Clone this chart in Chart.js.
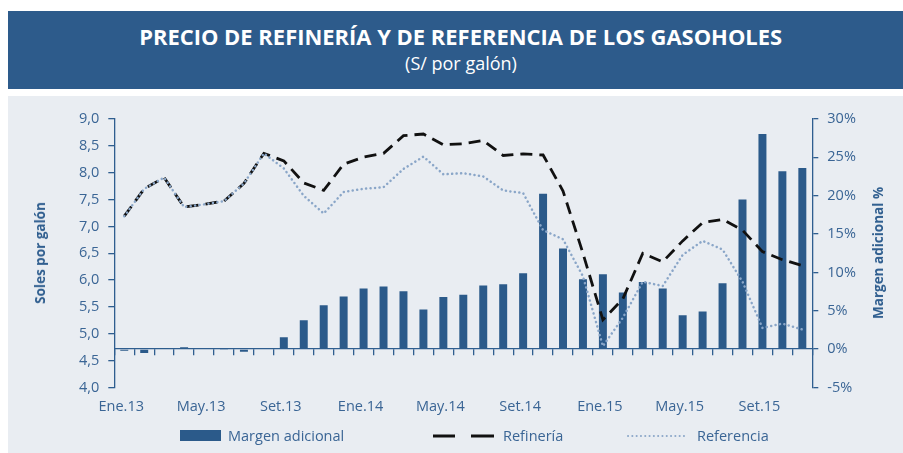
<!DOCTYPE html>
<html><head><meta charset="utf-8">
<script src="https://cdn.jsdelivr.net/npm/chart.js@4.4.1/dist/chart.umd.min.js"></script>
<style>
html,body{margin:0;padding:0;background:#fff;width:903px;height:453px;overflow:hidden;font-family:"Open Sans",sans-serif;}
#banner{position:absolute;left:8px;top:11px;width:895px;height:78px;background:#2D5B8B;}
#panel{position:absolute;left:8px;top:96px;width:895px;height:357px;background:#E9EDF2;}
.t{position:absolute;left:0;width:922px;text-align:center;color:#fff;white-space:nowrap;}
#t1{top:25px;font-size:21px;font-weight:bold;line-height:24px;}
#t2{top:52px;font-size:18px;line-height:22px;}
#c{position:absolute;left:0;top:0;}
.ytitle{position:absolute;color:#2F5E8F;font-weight:bold;font-size:13.5px;white-space:nowrap;line-height:16px;transform:translate(-50%,-50%) rotate(-90deg);}
.legt{position:absolute;top:426px;color:#3A6595;font-size:14.5px;line-height:20px;white-space:nowrap;}
</style></head>
<body>
<div id="banner"></div>
<div id="panel"></div>
<div class="t" id="t1"><span id="t1s" style="display:inline-block">PRECIO DE REFINERÍA Y DE REFERENCIA DE LOS GASOHOLES</span></div>
<div class="t" id="t2">(S/ por galón)</div>
<canvas id="c" width="903" height="453"></canvas>
<div class="ytitle" style="left:40px;top:253px;">Soles por galón</div>
<div class="ytitle" style="left:878px;top:253px;">Margen adicional %</div>
<div style="position:absolute;left:180px;top:430px;width:41px;height:11px;background:#2B5A8A"></div>
<div class="legt" style="left:228px">Margen adicional</div>
<svg style="position:absolute;left:433px;top:430px" width="62" height="12"><line x1="0" y1="6" x2="22" y2="6" stroke="#111" stroke-width="3"/><line x1="38" y1="6" x2="61" y2="6" stroke="#111" stroke-width="3"/></svg>
<div class="legt" style="left:503px">Refinería</div>
<svg style="position:absolute;left:627px;top:430px" width="62" height="12"><line x1="1" y1="6" x2="61" y2="6" stroke="#8DA8C9" stroke-width="2" stroke-dasharray="0.1 4.2" stroke-linecap="round"/></svg>
<div class="legt" style="left:697px">Referencia</div>
<script>
const categorias = [
 "Ene.13","Feb.13","Mar.13","Abr.13","May.13","Jun.13","Jul.13","Ago.13","Set.13","Oct.13","Nov.13","Dic.13",
 "Ene.14","Feb.14","Mar.14","Abr.14","May.14","Jun.14","Jul.14","Ago.14","Set.14","Oct.14","Nov.14","Dic.14",
 "Ene.15","Feb.15","Mar.15","Abr.15","May.15","Jun.15","Jul.15","Ago.15","Set.15","Oct.15","Nov.15"];
const margenAdicional = [-0.2,-0.5,0.15,0.25,0,-0.1,-0.35,0,1.56,3.77,5.72,6.85,7.89,8.15,7.54,5.16,6.8,7.1,8.28,8.45,9.88,20.25,13.13,9.1,9.75,7.37,8.76,7.89,4.42,4.9,8.58,19.5,28.05,23.2,23.6];
const refineria = [7.19,7.70,7.91,7.36,7.41,7.47,7.80,8.36,8.22,7.81,7.67,8.16,8.29,8.36,8.69,8.72,8.52,8.54,8.60,8.32,8.35,8.33,7.66,6.50,5.26,5.65,6.50,6.34,6.73,7.07,7.13,6.93,6.53,6.38,6.27];
const referencia = [7.19,7.70,7.91,7.36,7.41,7.47,7.80,8.36,8.08,7.57,7.24,7.64,7.70,7.73,8.07,8.30,7.97,7.99,7.93,7.67,7.62,6.93,6.76,6.07,4.77,5.30,5.97,5.89,6.47,6.73,6.57,5.97,5.11,5.19,5.08];
const ticksIzq = {min:4, max:9, step:0.5};
const ticksDer = {min:-5, max:30, step:5};

(function(){const s=document.getElementById('t1s');const w=s.getBoundingClientRect().width;const target=643;s.style.transform='scaleX('+(target/w)+')';})();

const axisColor = '#2F5E8F';
const textColor = '#3A6595';
const tickFont = {family:'"Open Sans", sans-serif', size:14.5};

new Chart(document.getElementById('c'), {
  type:'bar',
  data:{
    labels: categorias,
    datasets:[
      {type:'line', label:'Referencia', data:referencia, yAxisID:'y', xAxisID:'x', borderColor:'#8AA6C8', borderWidth:2.5, borderDash:[0.1,4.4], borderCapStyle:'round', pointRadius:0, tension:0, fill:false, order:1},
      {type:'line', label:'Refinería', data:refineria, yAxisID:'y', xAxisID:'x', borderColor:'#111111', borderWidth:2.8, borderDash:[12,7], pointRadius:0, tension:0, fill:false, order:2},
      {type:'bar', label:'Margen adicional', data:margenAdicional, yAxisID:'y1', xAxisID:'x', backgroundColor:'#2B5A8A', borderWidth:0, barPercentage:0.4, categoryPercentage:1, order:3}
    ]
  },
  options:{
    responsive:false, animation:false, devicePixelRatio:1,
    layout:{padding:{left:0,right:0,top:119,bottom:0}},
    plugins:{legend:{display:false}, tooltip:{enabled:false}},
    scales:{
      x:{type:'category', position:'bottom', offset:true,
         grid:{display:false, drawTicks:false}, border:{display:false},
         ticks:{autoSkip:false, maxRotation:0, padding:11, color:textColor, font:tickFont, labelOffset:-3,
           callback:function(v,i){return i%4===0 ? categorias[i] : '';}},
         afterFit:function(s){s.height = 453-387.5;}},
      x2:{type:'category', position:{y1:0}, offset:true,
         grid:{display:true, drawOnChartArea:false, drawTicks:true, tickLength:6, color:axisColor, offset:true, lineWidth:1.3},
         border:{display:true, color:axisColor, width:1.3},
         ticks:{display:false}},
      y:{type:'linear', position:'left', min:ticksIzq.min, max:ticksIzq.max,
         grid:{display:true, drawOnChartArea:false, drawTicks:true, tickLength:6, color:axisColor, lineWidth:1.3},
         border:{display:true, color:axisColor, width:1.3},
         ticks:{stepSize:ticksIzq.step, padding:9, color:textColor, font:tickFont,
           callback:function(v){return v.toFixed(1).replace('.', ',');}},
         afterFit:function(s){s.width = 114.3;}},
      y1:{type:'linear', position:'right', min:ticksDer.min, max:ticksDer.max,
         grid:{display:true, drawOnChartArea:false, drawTicks:true, tickLength:6, color:axisColor, lineWidth:1.3},
         border:{display:true, color:axisColor, width:1.3},
         ticks:{stepSize:ticksDer.step, padding:9, color:textColor, font:tickFont,
           callback:function(v){return v+'%';}},
         afterFit:function(s){s.width = 903-812.3;}}
    }
  }
});
</script>
</body></html>
